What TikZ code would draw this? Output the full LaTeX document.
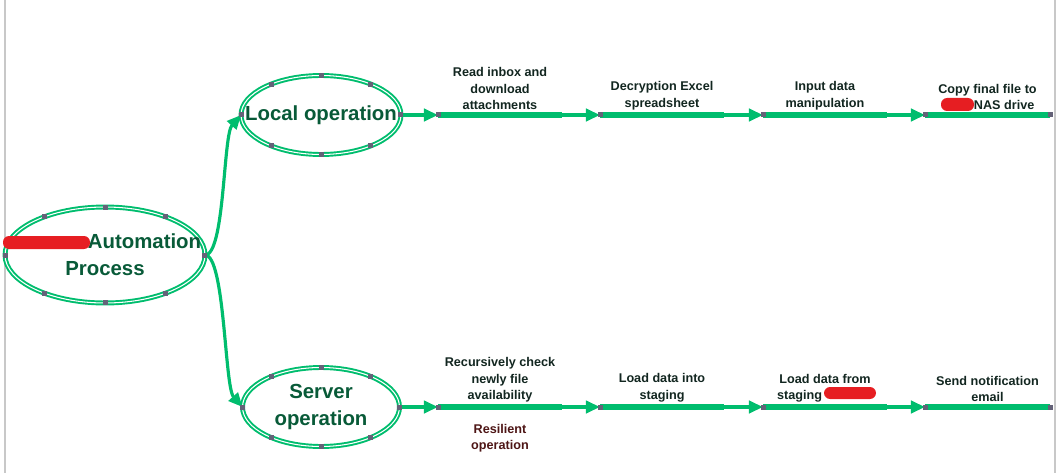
\documentclass[tikz,border=0pt]{standalone}
\usepackage{fontspec}
\setmainfont{Liberation Sans}
\usetikzlibrary{shapes.geometric}
\usetikzlibrary{arrows.meta}

\definecolor{mapgreen}{RGB}{0,189,110}
\definecolor{titlegreen}{RGB}{8,90,56}
\definecolor{steptext}{RGB}{18,38,32}
\definecolor{notered}{RGB}{78,22,22}
\definecolor{handlegray}{RGB}{100,98,120}
\definecolor{redact}{RGB}{230,30,34}
\definecolor{edgegray}{RGB}{200,200,200}

\tikzset{
  bubble/.style={ellipse, draw=mapgreen, double=white, double distance=0.6pt, line width=1.1pt, inner sep=0pt, outer sep=0pt},
  title/.style={font=\bfseries\fontsize{11.6}{15.4}\selectfont, text=titlegreen, align=center},
  steptxt/.style={font=\bfseries\fontsize{7.2}{9.4}\selectfont, text=steptext, align=center, inner sep=0pt},
  notetxt/.style={font=\bfseries\fontsize{7.2}{9.4}\selectfont, text=notered, align=center, inner sep=0pt},
  link/.style={draw=mapgreen, line width=1.8pt, -{Triangle[length=8pt,width=7pt]}},
  bar/.style={draw=mapgreen, line width=3.6pt},
  handle/.style={fill=handlegray},
}

\newcommand{\handles}[1]{\foreach \a in {0,32,90,148,180,212,270,328} \fill[handle] (#1.\a) ++(-2.5,-2.5) rectangle ++(5,5);}

\begin{document}
\begin{tikzpicture}[x=0.02cm, y=-0.02cm]
  \useasboundingbox (0,0) rectangle (1058,473);
  \draw[edgegray, line width=0.6pt] (5,0) -- (5,473);
  \draw[edgegray, line width=0.6pt] (1055,0) -- (1055,473);

  % bubbles
  \node[bubble, minimum width=4cm, minimum height=1.92cm] (root) at (105,255) {};
  \node[bubble, minimum width=3.2cm, minimum height=1.58cm] (local) at (321,115) {};
  \node[bubble, minimum width=3.14cm, minimum height=1.58cm] (server) at (321,407) {};
  \node[title] (roottxt) at (root) {\hspace*{45pt}Automation\\Process};
  \node[title] (localtxt) at (local) {Local operation};
  \node[title] (servertxt) at (server) {Server\\operation};

  % branches
  \draw[link] (root.east) .. controls +(20,0) and +(-18,20) .. (local.west);
  \draw[link] (root.east) .. controls +(20,0) and +(-18,-20) .. (server.west);

  % local steps
  \coordinate (l1a) at (438,115); \coordinate (l1b) at (562,115);
  \coordinate (l2a) at (600,115); \coordinate (l2b) at (724,115);
  \coordinate (l3a) at (763,115); \coordinate (l3b) at (887,115);
  \coordinate (l4a) at (925,115); \coordinate (l4b) at (1050,115);
  \draw[link] (local.east) -- (l1a);
  \draw[bar] (l1a) -- (l1b) node[pos=0.5, steptxt, anchor=south, yshift=1.2pt] (l1txt) {Read inbox and\\download\\attachments};
  \draw[link] (l1b) -- (l2a);
  \draw[bar] (l2a) -- (l2b) node[pos=0.5, steptxt, anchor=south, yshift=1.2pt] (l2txt) {Decryption Excel\\spreadsheet};
  \draw[link] (l2b) -- (l3a);
  \draw[bar] (l3a) -- (l3b) node[pos=0.5, steptxt, anchor=south, yshift=1.2pt] (l3txt) {Input data\\manipulation};
  \draw[link] (l3b) -- (l4a);
  \draw[bar] (l4a) -- (l4b) node[pos=0.5, steptxt, anchor=south, yshift=1.2pt] (l4txt) {Copy final file to\\\hspace*{19pt}NAS drive};

  % server steps
  \coordinate (s1a) at (438,407); \coordinate (s1b) at (562,407);
  \coordinate (s2a) at (600,407); \coordinate (s2b) at (724,407);
  \coordinate (s3a) at (763,407); \coordinate (s3b) at (887,407);
  \coordinate (s4a) at (925,407); \coordinate (s4b) at (1050,407);
  \draw[link] (server.east) -- (s1a);
  \draw[bar] (s1a) -- (s1b) node[pos=0.5, steptxt, anchor=south, yshift=0.8pt] (s1txt) {Recursively check\\newly file\\availability}
    node[pos=0.5, notetxt, anchor=north, yshift=-8pt] (s1note) {Resilient\\operation};
  \draw[link] (s1b) -- (s2a);
  \draw[bar] (s2a) -- (s2b) node[pos=0.5, steptxt, anchor=south, yshift=1.2pt] (s2txt) {Load data into\\staging};
  \draw[link] (s2b) -- (s3a);
  \draw[bar] (s3a) -- (s3b) node[pos=0.5, steptxt, anchor=south, yshift=0.8pt] (s3txt) {Load data from\\staging\hspace*{29pt}};
  \draw[link] (s3b) -- (s4a);
  \draw[bar] (s4a) -- (s4b) node[pos=0.5, steptxt, anchor=south, yshift=1.2pt] (s4txt) {Send notification\\email};

  % handles
  \handles{root} \handles{local} \handles{server}
  \foreach \p in {l1a,l2a,l3a,l4a,l4b,s1a,s2a,s3a,s4a,s4b}
    \fill[handle] (\p) ++(-2.5,-2.5) rectangle ++(5,5);

  % redactions
  \fill[redact, rounded corners=3.5pt] (3,236) rectangle (90,249);
  \fill[redact, rounded corners=3.5pt] (941,98) rectangle (974,111);
  \fill[redact, rounded corners=3.5pt] (824,387) rectangle (876,399);
\end{tikzpicture}
\end{document}
